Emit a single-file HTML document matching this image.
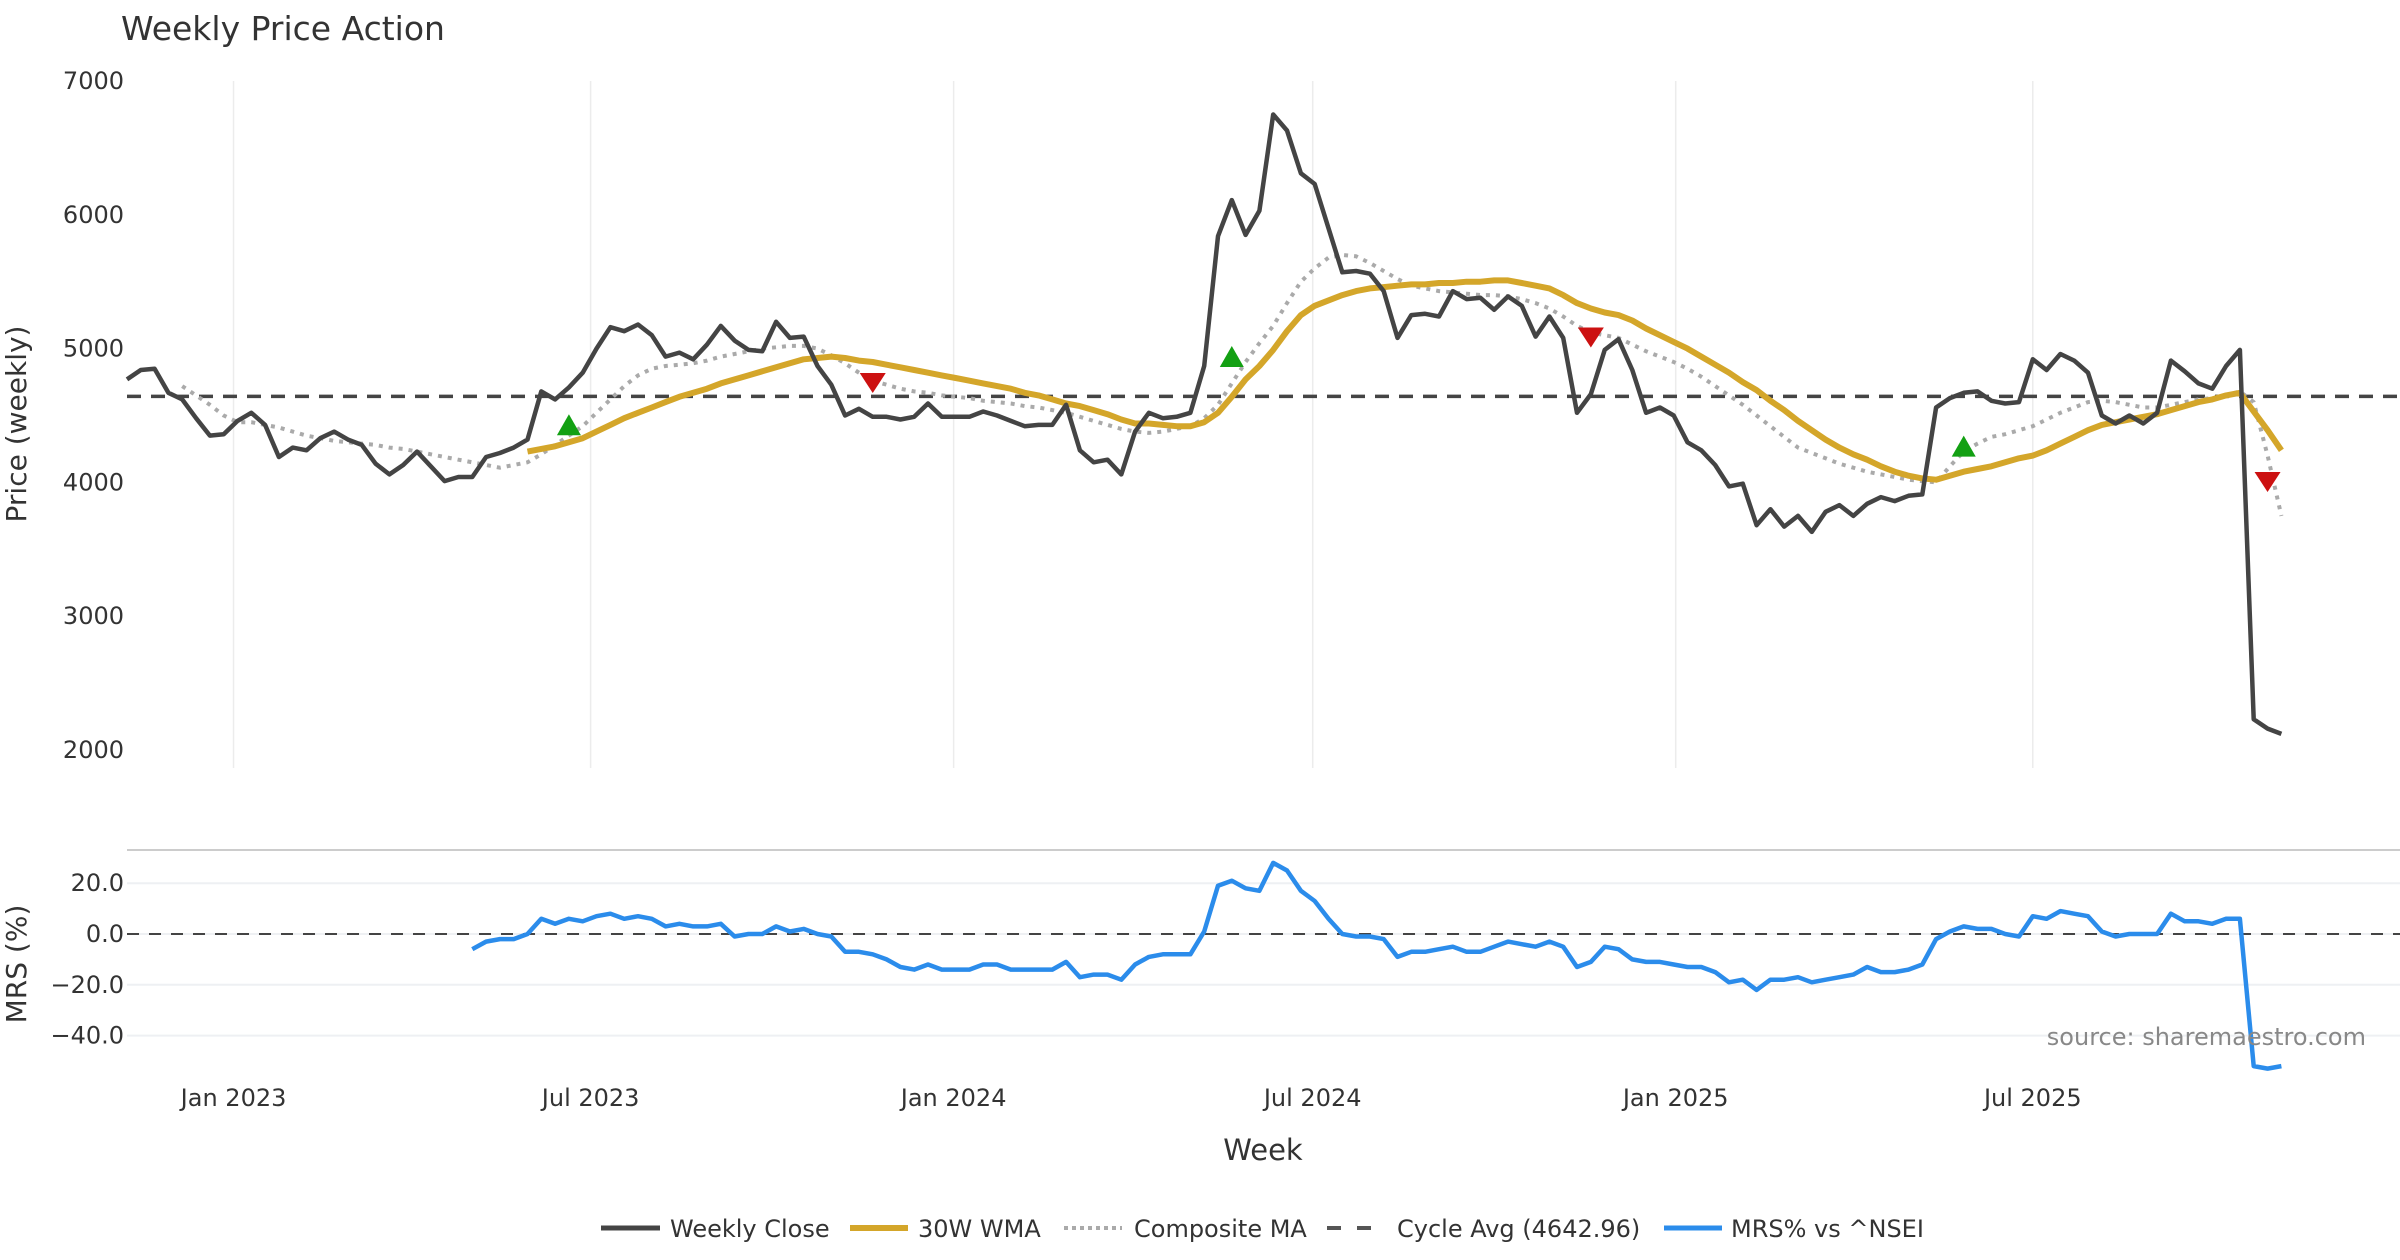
<!DOCTYPE html>
<html><head><meta charset="utf-8">
<style>
html,body{margin:0;padding:0;background:#fff;}
svg{display:block;font-family:"DejaVu Sans","Liberation Sans",sans-serif;}
</style></head>
<body>
<svg id="chart" width="2400" height="1260" viewBox="0 0 2400 1260" xmlns="http://www.w3.org/2000/svg">
<text x="121" y="40" font-size="33" fill="#333">Weekly Price Action</text>
<g id="grid"></g>
<g id="series"></g>
<g id="axes"></g>
<text x="26" y="424" font-size="28" fill="#333" text-anchor="middle" transform="rotate(-90 26 424)">Price (weekly)</text>
<text x="26" y="964" font-size="28" fill="#333" text-anchor="middle" transform="rotate(-90 26 964)">MRS (%)</text>
<text x="1263" y="1160" font-size="29" fill="#333" text-anchor="middle">Week</text>
<text x="2366" y="1045" font-size="24" fill="#888" text-anchor="end">source: sharemaestro.com</text>
<g id="legend" font-size="24" fill="#333">
  <g><line x1="601" y1="1228" x2="660" y2="1228" stroke="#444" stroke-width="5"/><text x="670" y="1237">Weekly Close</text></g>
  <g><line x1="850" y1="1228" x2="908" y2="1228" stroke="#D4A62A" stroke-width="6"/><text x="918" y="1237">30W WMA</text></g>
  <g><line x1="1064" y1="1228" x2="1122" y2="1228" stroke="#aaa" stroke-width="4" stroke-dasharray="4,4"/><text x="1134" y="1237">Composite MA</text></g>
  <g><line x1="1327" y1="1228" x2="1385" y2="1228" stroke="#555" stroke-width="4" stroke-dasharray="14,16"/><text x="1397" y="1237">Cycle Avg (4642.96)</text></g>
  <g><line x1="1664" y1="1228" x2="1722" y2="1228" stroke="#2B8CEB" stroke-width="5"/><text x="1731" y="1237">MRS% vs ^NSEI</text></g>
</g>
</svg>
<script>
const closeValues=[4770,4840,4850,4670,4620,4480,4350,4360,4460,4520,4430,4190,4260,4240,4330,4380,4320,4280,4140,4060,4130,4230,4120,4010,4040,4040,4190,4220,4260,4320,4680,4620,4710,4820,5000,5160,5130,5180,5100,4940,4970,4920,5030,5170,5060,4990,4980,5200,5080,5090,4870,4730,4500,4550,4490,4490,4470,4490,4590,4490,4490,4490,4530,4500,4460,4420,4430,4430,4580,4240,4150,4170,4060,4380,4520,4480,4490,4520,4870,5840,6110,5850,6030,6750,6630,6310,6230,5900,5570,5580,5560,5430,5080,5250,5260,5240,5430,5370,5380,5290,5390,5320,5090,5240,5080,4520,4660,4990,5070,4840,4520,4560,4500,4300,4240,4130,3970,3990,3680,3800,3670,3750,3630,3780,3830,3750,3840,3890,3860,3900,3910,4560,4630,4670,4680,4610,4590,4600,4920,4840,4960,4910,4820,4500,4440,4500,4440,4520,4910,4830,4740,4700,4870,4990,2230,2160,2120];
const wmaStart=29;
const wmaValues=[4230,4250,4270,4300,4330,4380,4430,4480,4520,4560,4600,4640,4670,4700,4740,4770,4800,4830,4860,4890,4920,4930,4940,4930,4910,4900,4880,4860,4840,4820,4800,4780,4760,4740,4720,4700,4670,4650,4620,4590,4570,4540,4510,4470,4440,4440,4430,4420,4420,4450,4520,4640,4770,4870,4990,5130,5250,5320,5360,5400,5430,5450,5460,5470,5480,5480,5490,5490,5500,5500,5510,5510,5490,5470,5450,5400,5340,5300,5270,5250,5210,5150,5100,5050,5000,4940,4880,4820,4750,4690,4610,4540,4460,4390,4320,4260,4210,4170,4120,4080,4050,4030,4020,4050,4080,4100,4120,4150,4180,4200,4240,4290,4340,4390,4430,4450,4470,4490,4510,4540,4570,4600,4620,4650,4670,4530,4390,4240];
const compStart=4;
const compValues=[4720,4650,4580,4500,4450,4450,4430,4410,4380,4350,4330,4310,4300,4290,4280,4260,4250,4230,4210,4190,4170,4150,4130,4110,4130,4150,4210,4280,4350,4420,4520,4620,4720,4800,4850,4870,4880,4890,4910,4940,4960,4980,5000,5010,5020,5020,5000,4950,4890,4820,4760,4730,4700,4680,4670,4650,4640,4630,4610,4600,4590,4570,4560,4540,4520,4490,4460,4430,4400,4380,4370,4380,4400,4420,4480,4580,4740,4900,5040,5170,5340,5500,5600,5680,5700,5690,5640,5580,5520,5470,5450,5430,5420,5410,5400,5400,5390,5370,5340,5300,5240,5170,5120,5100,5080,5030,4980,4940,4900,4850,4790,4720,4650,4580,4500,4420,4340,4260,4220,4180,4140,4110,4080,4060,4040,4020,4010,4000,4120,4230,4290,4340,4360,4390,4420,4470,4520,4560,4600,4610,4600,4580,4560,4560,4580,4600,4620,4630,4650,4680,4600,4200,3750];
const mrsStart=25;
const mrsValues=[-6,-3,-2,-2,0,6,4,6,5,7,8,6,7,6,3,4,3,3,4,-1,0,0,3,1,2,0,-1,-7,-7,-8,-10,-13,-14,-12,-14,-14,-14,-12,-12,-14,-14,-14,-14,-11,-17,-16,-16,-18,-12,-9,-8,-8,-8,1,19,21,18,17,28,25,17,13,6,0,-1,-1,-2,-9,-7,-7,-6,-5,-7,-7,-5,-3,-4,-5,-3,-5,-13,-11,-5,-6,-10,-11,-11,-12,-13,-13,-15,-19,-18,-22,-18,-18,-17,-19,-18,-17,-16,-13,-15,-15,-14,-12,-2,1,3,2,2,0,-1,7,6,9,8,7,1,-1,0,0,0,8,5,5,4,6,6,-52,-53,-52];
const cycleAvg=4642.96;
const buyIdx=[32,80,133];
const buyPrice=[4420,4930,4260];
const sellIdx=[54,106,155];
const sellPrice=[4750,5090,4010];
const priceTicks=[2000,3000,4000,5000,6000,7000];
const mrsTicks=[20,0,-20,-40];
const xTickLabels=["Jan 2023","Jul 2023","Jan 2024","Jul 2024","Jan 2025","Jul 2025"];
const xTickDates=["2023-01-01","2023-07-01","2024-01-01","2024-07-01","2025-01-01","2025-07-01"];
const startDate="2022-11-08";

const NS="http://www.w3.org/2000/svg";
const X0=127,DX=13.81,PL=127,PR=2400;
const xs=i=>X0+DX*i;
const yp=p=>81+(7000-p)*0.1338;
const ym=v=>934-v*2.54;
const dateIdx=d=>(new Date(d)-new Date(startDate))/(7*864e5);
function mk(tag,attrs,parent){const e=document.createElementNS(NS,tag);for(const k in attrs)e.setAttribute(k,attrs[k]);parent.appendChild(e);return e;}
const gridG=document.getElementById('grid'),ser=document.getElementById('series'),axes=document.getElementById('axes');

xTickDates.forEach((d,k)=>{
  const x=xs(dateIdx(d));
  const g=mk('line',{x1:x,y1:81,x2:x,y2:768,stroke:'#ececec','stroke-width':1.5},gridG);
  
  
  const t=mk('text',{x:x,y:1106,'font-size':24,fill:'#333','text-anchor':'middle'},axes);
  t.textContent=xTickLabels[k];
  
  
});
priceTicks.forEach(p=>{
  const t=mk('text',{x:124,y:yp(p)+8,'font-size':24,fill:'#333','text-anchor':'end'},axes);
  t.textContent=p;
  
  
});
const panelTop=mk('line',{x1:PL,y1:850,x2:PR,y2:850,stroke:'#ccc','stroke-width':2},gridG);


mrsTicks.forEach(v=>{
  const l=mk('line',{x1:PL,y1:ym(v),x2:PR,y2:ym(v),stroke:'#eef0f3','stroke-width':2},gridG);
  
  
  const t=mk('text',{x:124,y:ym(v)+8,'font-size':24,fill:'#333','text-anchor':'end'},axes);
  t.textContent=(v<0?'\u2212':'')+Math.abs(v).toFixed(1);
  
  
});
const zeroLine=mk('line',{x1:PL,y1:ym(0),x2:PR,y2:ym(0),stroke:'#444','stroke-width':2,'stroke-dasharray':'12,10'},ser);



function drawPath(vals,start,yf,attrs,name){
  const d=vals.map((v,k)=>(k?'L':'M')+xs(start+k).toFixed(1)+','+yf(v).toFixed(1)).join('');
  const p=mk('path',Object.assign({d:d,fill:'none','stroke-linejoin':'round'},attrs),ser);
  
  
  return p;
}
const cycleLine=mk('line',{x1:PL,y1:yp(cycleAvg),x2:PR,y2:yp(cycleAvg),stroke:'#444','stroke-width':3.5,'stroke-dasharray':'14,10'},ser);


drawPath(compValues,compStart,yp,{stroke:'#aaa','stroke-width':4,'stroke-dasharray':'4,6'},'composite-ma-line');
drawPath(wmaValues,wmaStart,yp,{stroke:'#D4A62A','stroke-width':6},'wma-line');
drawPath(closeValues,0,yp,{stroke:'#444','stroke-width':4.5},'weekly-close-line');
drawPath(mrsValues,mrsStart,ym,{stroke:'#2B8CEB','stroke-width':4.5},'mrs-line');

buyIdx.forEach((i,k)=>{
  const x=xs(i),y=yp(buyPrice[k]);
  const m=mk('polygon',{points:`${x-12},${y+9} ${x+12},${y+9} ${x},${y-12}`,fill:'#13A013'},ser);
  
  
});
sellIdx.forEach((i,k)=>{
  const x=xs(i),y=yp(sellPrice[k]);
  const m=mk('polygon',{points:`${x-13},${y-9} ${x+13},${y-9} ${x},${y+11}`,fill:'#CC1111'},ser);
  
  
});
</script>
</body></html>
